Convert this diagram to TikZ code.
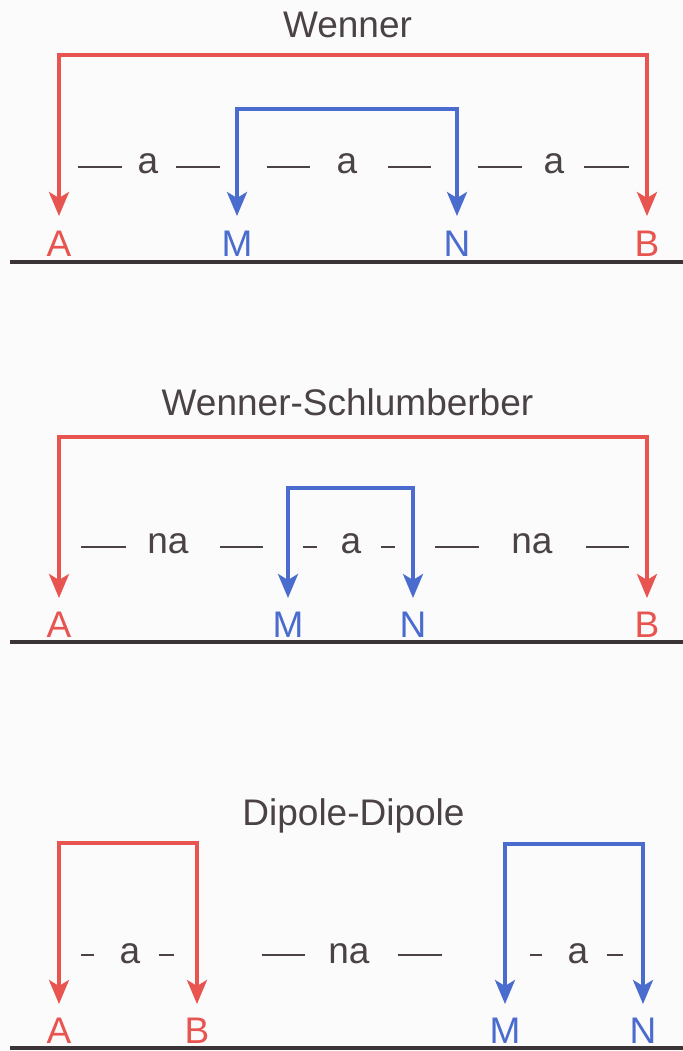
\documentclass[tikz,border=0pt]{standalone}
\usepackage{fontspec}
\setmainfont{Liberation Sans}
\usetikzlibrary{arrows.meta}
\definecolor{myred}{RGB}{232,84,80}
\definecolor{myblue}{RGB}{74,108,206}
\definecolor{ink}{RGB}{74,66,70}
\definecolor{groundc}{RGB}{58,52,54}
\definecolor{bgc}{RGB}{251,251,251}
\begin{document}
\begin{tikzpicture}[x=0.5pt,y=-0.5pt,
  txt/.style={font=\fontsize{18.5pt}{20pt}\selectfont, text=ink, inner sep=0pt, anchor=base},
  elabred/.style={font=\fontsize{18.5pt}{20pt}\selectfont, text=myred, inner sep=0pt, anchor=base},
  elabblue/.style={font=\fontsize{18.5pt}{20pt}\selectfont, text=myblue, inner sep=0pt, anchor=base},
  wire/.style={line width=1.8pt, {Stealth[length=12pt,width=10pt,inset=3pt]}-{Stealth[length=12pt,width=10pt,inset=3pt]}},
  redwire/.style={wire, draw=myred},
  bluewire/.style={wire, draw=myblue},
  dashln/.style={draw=ink, line width=1.2pt},
  ground/.style={draw=groundc, line width=2pt}]
\fill[bgc] (0,0) rectangle (683,1051);
\useasboundingbox (0,0) rectangle (683,1051);

% ===== Wenner =====
\node[txt] (t1) at (347.5,37) {Wenner};
\node[elabred] (A1) at (59,256) {A};
\node[elabblue] (M1) at (237,256) {M};
\node[elabblue] (N1) at (457,256) {N};
\node[elabred] (B1) at (647,256) {B};
\coordinate (tA1) at (59,216);
\coordinate (tM1) at (237,216);
\coordinate (tN1) at (457,216);
\coordinate (tB1) at (647,216);
\coordinate (cB1) at (647,55);
\coordinate (cN1) at (457,109);
\draw[redwire] (tA1) |- (cB1) -- (tB1);
\draw[bluewire] (tM1) |- (cN1) -- (tN1);
\node[txt] (a11) at (148,173) {a};
\node[txt] (a12) at (347,173) {a};
\node[txt] (a13) at (554,173) {a};
\draw[dashln] (78,167) -- (122,167);
\draw[dashln] (176,167) -- (220,167);
\draw[dashln] (267,167) -- (310,167);
\draw[dashln] (388,167) -- (431,167);
\draw[dashln] (478,167) -- (522,167);
\draw[dashln] (584,167) -- (629,167);
\coordinate (g1a) at (10,262);
\coordinate (g1b) at (683,262);
\draw[ground] (g1a) -- (g1b);

% ===== Wenner-Schlumberber =====
\node[txt] (t2) at (347.5,415) {Wenner-Schlumberber};
\node[elabred] (A2) at (59,637) {A};
\node[elabblue] (M2) at (288,637) {M};
\node[elabblue] (N2) at (413,637) {N};
\node[elabred] (B2) at (647,637) {B};
\coordinate (tA2) at (59,598);
\coordinate (tM2) at (288,598);
\coordinate (tN2) at (413,598);
\coordinate (tB2) at (647,598);
\coordinate (cB2) at (647,437);
\coordinate (cN2) at (413,488);
\draw[redwire] (tA2) |- (cB2) -- (tB2);
\draw[bluewire] (tM2) |- (cN2) -- (tN2);
\node[txt] (a21) at (168,553) {na};
\node[txt] (a22) at (351,553) {a};
\node[txt] (a23) at (532,553) {na};
\draw[dashln] (81,547) -- (126,547);
\draw[dashln] (220,547) -- (263,547);
\draw[dashln] (303,547) -- (317,547);
\draw[dashln] (381,547) -- (395,547);
\draw[dashln] (435,547) -- (479,547);
\draw[dashln] (586,547) -- (629,547);
\coordinate (g2a) at (10,642);
\coordinate (g2b) at (683,642);
\draw[ground] (g2a) -- (g2b);

% ===== Dipole-Dipole =====
\node[txt] (t3) at (353.5,825) {Dipole-Dipole};
\node[elabred] (A3) at (59,1043) {A};
\node[elabred] (B3) at (197,1043) {B};
\node[elabblue] (M3) at (505,1043) {M};
\node[elabblue] (N3) at (643,1043) {N};
\coordinate (tA3) at (59,1004);
\coordinate (tB3) at (197,1004);
\coordinate (tM3) at (505,1004);
\coordinate (tN3) at (643,1004);
\coordinate (cB3) at (197,843);
\coordinate (cN3) at (643,844);
\draw[redwire] (tA3) |- (cB3) -- (tB3);
\draw[bluewire] (tM3) |- (cN3) -- (tN3);
\node[txt] (a31) at (130,963) {a};
\node[txt] (a32) at (349,963) {na};
\node[txt] (a33) at (578,963) {a};
\draw[dashln] (81,955) -- (94,955);
\draw[dashln] (159,955) -- (174,955);
\draw[dashln] (262,955) -- (305,955);
\draw[dashln] (398,955) -- (442,955);
\draw[dashln] (530,955) -- (542,955);
\draw[dashln] (607,955) -- (623,955);
\coordinate (g3a) at (10,1048);
\coordinate (g3b) at (683,1048);
\draw[ground] (g3a) -- (g3b);
\end{tikzpicture}
\end{document}
